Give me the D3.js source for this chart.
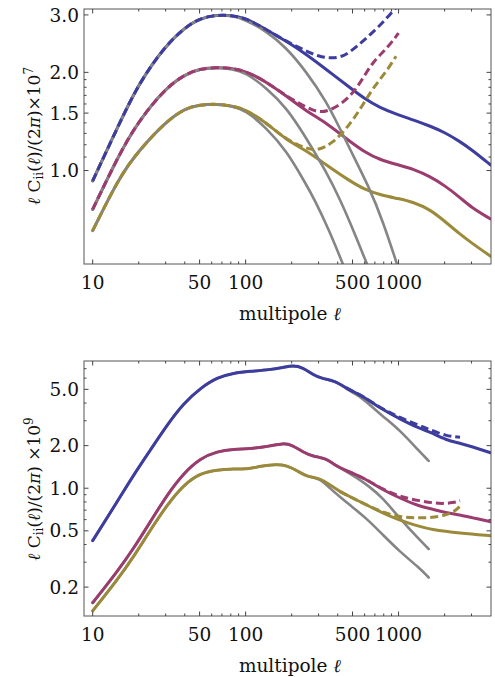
<!DOCTYPE html>
<html>
<head>
<meta charset="utf-8">
<script src="https://cdn.jsdelivr.net/npm/d3@7"></script>
<style>
  html, body { margin: 0; padding: 0; background: #fff; }
  svg { display: block; }
  text { font-family: "DejaVu Serif", serif; fill: #111; }
</style>
</head>
<body>
<svg id="chart" width="495" height="677"></svg>
<script>
// ---------------- DATA ----------------
// x tick values (multipole ℓ)
const xMajorTicks = [10, 50, 100, 500, 1000];
const xMinorTicks = [20, 30, 40, 60, 70, 80, 90, 200, 300, 400, 600, 700, 800, 900, 2000, 3000];

// top panel y ticks (×10^7)
const topYMajor = [1.0, 1.5, 2.0, 3.0];
const topYMinor = [1.1, 1.2, 1.3, 1.4, 1.6, 1.7, 1.8, 1.9];
const topYLabels = ["1.0", "1.5", "2.0", "3.0"];

// bottom panel y ticks (×10^9)
const botYMajor = [0.2, 0.5, 1.0, 2.0, 5.0];
const botYMinor = [0.3, 0.4, 0.6, 0.7, 0.8, 0.9, 3, 4, 6, 7];
const botYLabels = ["0.2", "0.5", "1.0", "2.0", "5.0"];

// ---- top panel: solid colored curves
const topEllSolid = [10, 15, 20, 30, 40, 50, 65, 80, 100, 137, 185, 250, 337, 478, 600, 750, 1000, 1250, 1600, 2000, 2500, 3000, 4000];
const topBlueSolid = [0.93, 1.40, 1.85, 2.42, 2.74, 2.93, 3.00, 2.99, 2.94, 2.70, 2.49, 2.27, 2.04, 1.80, 1.66, 1.56, 1.48, 1.43, 1.37, 1.31, 1.23, 1.16, 1.04];
const topMagSolid  = [0.76, 1.13, 1.42, 1.79, 1.97, 2.05, 2.07, 2.06, 2.02, 1.87, 1.69, 1.52, 1.40, 1.23, 1.14, 1.08, 1.04, 1.01, 0.96, 0.90, 0.83, 0.77, 0.71];
const topOliSolid  = [0.654, 0.96, 1.15, 1.41, 1.55, 1.59, 1.60, 1.58, 1.54, 1.40, 1.24, 1.15, 1.04, 0.93, 0.875, 0.843, 0.82, 0.80, 0.76, 0.70, 0.64, 0.60, 0.546];

// ---- top panel: dashed colored curves
const topEllBlueDash = [10, 15, 20, 30, 40, 50, 65, 80, 100, 137, 185, 250, 300, 350, 412, 478, 585, 750, 917, 1000];
const topBlueDash    = [0.93, 1.40, 1.85, 2.42, 2.74, 2.93, 3.00, 2.99, 2.94, 2.70, 2.49, 2.32, 2.24, 2.21, 2.22, 2.30, 2.49, 2.77, 3.08, 3.22];
const topEllMagDash  = [10, 15, 20, 30, 40, 50, 65, 80, 100, 137, 185, 250, 305, 372, 478, 580, 680, 850, 1000];
const topMagDash     = [0.76, 1.13, 1.42, 1.79, 1.97, 2.05, 2.07, 2.06, 2.02, 1.87, 1.69, 1.56, 1.50, 1.54, 1.67, 1.90, 2.16, 2.38, 2.64];
const topEllOliDash  = [10, 15, 20, 30, 40, 50, 65, 80, 100, 137, 185, 249, 290, 372, 478, 580, 680, 850, 963];
const topOliDash     = [0.654, 0.96, 1.15, 1.41, 1.55, 1.59, 1.60, 1.58, 1.54, 1.40, 1.24, 1.17, 1.148, 1.21, 1.38, 1.58, 1.79, 2.04, 2.24];

// ---- top panel: gray curves
const topEllBlueGray = [10, 15, 20, 30, 40, 50, 65, 80, 100, 137, 185, 249, 337, 412, 478, 646, 789, 1000];
const topBlueGray    = [0.93, 1.40, 1.85, 2.42, 2.74, 2.93, 3.00, 2.99, 2.90, 2.67, 2.38, 2.01, 1.63, 1.35, 1.17, 0.884, 0.70, 0.50];
const topEllMagGray  = [10, 15, 20, 30, 40, 50, 65, 80, 100, 137, 185, 249, 337, 412, 478, 640];
const topMagGray     = [0.76, 1.13, 1.42, 1.79, 1.97, 2.05, 2.07, 2.05, 2.00, 1.79, 1.56, 1.26, 0.99, 0.82, 0.70, 0.50];
const topEllOliGray  = [10, 15, 20, 30, 40, 50, 65, 80, 100, 137, 185, 249, 280, 350, 445];
const topOliGray     = [0.654, 0.96, 1.15, 1.41, 1.55, 1.59, 1.60, 1.58, 1.53, 1.35, 1.15, 0.906, 0.82, 0.66, 0.50];

// ---- bottom panel: solid colored curves
const botEllBlue  = [10, 14.5, 18.6, 23.9, 30.7, 39.4, 50.7, 65, 83.6, 106, 144, 176, 204, 237, 275, 318, 383, 455, 528, 584, 789, 1014, 1370, 1600, 2046, 2523, 3000, 4000];
const botBlue     = [0.426, 0.807, 1.25, 1.87, 2.81, 4.0, 5.1, 6.07, 6.52, 6.70, 6.88, 7.14, 7.38, 7.14, 6.34, 5.94, 5.75, 5.11, 4.71, 4.46, 3.59, 3.10, 2.64, 2.50, 2.19, 2.08, 1.97, 1.78];
const botEllMag   = [10, 14.5, 18.6, 23.9, 30.7, 39.4, 50.7, 65, 83.6, 106, 144, 176, 204, 237, 275, 337, 383, 455, 528, 644, 789, 1014, 1370, 1600, 2046, 2523, 3000, 4000];
const botMag      = [0.155, 0.258, 0.378, 0.583, 0.90, 1.28, 1.63, 1.82, 1.89, 1.90, 1.98, 2.09, 2.01, 1.80, 1.68, 1.63, 1.45, 1.33, 1.25, 1.12, 0.976, 0.853, 0.745, 0.72, 0.67, 0.647, 0.62, 0.58];
const botEllOli   = [10, 14.5, 18.6, 23.9, 30.7, 39.4, 50.7, 65, 83.6, 106, 124, 159, 185, 218, 249, 305, 355, 411, 478, 614, 789, 1014, 1370, 1600, 2523, 4000];
const botOli      = [0.136, 0.225, 0.33, 0.509, 0.764, 1.06, 1.28, 1.35, 1.37, 1.37, 1.43, 1.48, 1.45, 1.33, 1.21, 1.18, 1.06, 0.95, 0.875, 0.764, 0.668, 0.593, 0.537, 0.513, 0.48, 0.462];

// ---- bottom panel: dashed colored curves (diverge at high ℓ)
const botEllBlueDash = [455, 528, 584, 789, 1014, 1370, 1574, 2046, 2523];
const botBlueDash    = [5.11, 4.71, 4.46, 3.62, 3.16, 2.78, 2.61, 2.34, 2.29];
const botEllMagDash  = [455, 528, 644, 789, 1014, 1370, 1849, 2300, 2523];
const botMagDash     = [1.33, 1.25, 1.12, 0.985, 0.87, 0.816, 0.773, 0.79, 0.816];
const botEllOliDash  = [411, 478, 614, 789, 1014, 1370, 1849, 2300, 2523];
const botOliDash     = [0.95, 0.875, 0.764, 0.675, 0.625, 0.615, 0.625, 0.675, 0.748];

// ---- bottom panel: gray curves
const botEllBlueGray = [10, 14.5, 18.6, 23.9, 30.7, 39.4, 50.7, 65, 83.6, 106, 144, 176, 204, 237, 275, 318, 383, 455, 528, 584, 789, 1014, 1370, 1574];
const botBlueGray    = [0.426, 0.807, 1.25, 1.87, 2.81, 4.0, 5.1, 6.07, 6.52, 6.70, 6.88, 7.14, 7.38, 7.14, 6.34, 5.94, 5.75, 5.05, 4.60, 4.30, 3.22, 2.59, 1.82, 1.56];
const botEllMagGray  = [10, 14.5, 18.6, 23.9, 30.7, 39.4, 50.7, 65, 83.6, 106, 144, 176, 204, 237, 275, 337, 383, 455, 528, 644, 789, 1014, 1370, 1574];
const botMagGray     = [0.155, 0.258, 0.378, 0.583, 0.90, 1.28, 1.63, 1.82, 1.89, 1.90, 1.98, 2.09, 2.01, 1.80, 1.68, 1.63, 1.45, 1.32, 1.19, 1.03, 0.853, 0.615, 0.432, 0.372];
const botEllOliGray  = [10, 14.5, 18.6, 23.9, 30.7, 39.4, 50.7, 65, 83.6, 106, 124, 159, 185, 218, 249, 305, 355, 411, 478, 614, 789, 1014, 1370, 1574];
const botOliGray     = [0.136, 0.225, 0.33, 0.509, 0.764, 1.06, 1.28, 1.35, 1.37, 1.37, 1.43, 1.48, 1.45, 1.33, 1.21, 1.18, 1.00, 0.875, 0.764, 0.615, 0.469, 0.358, 0.273, 0.234];

// ---------------- STYLE ----------------
const BLUE = "#3d3d9f", MAG = "#9b3c6f", OLI = "#9b8a3a", GRAY = "#858585";

// ---------------- DRAW ----------------
const svg = d3.select("#chart");
const X0 = 84, X1 = 491;

function zip(xs, ys) { return xs.map((x, i) => [x, ys[i]]); }

function panel(opts) {
  const { y0, y1, yDomain, yMajor, yMinor, yLabels, id } = opts;
  const x = d3.scaleLog().domain([8.775, 4022]).range([X0, X1]);
  const y = d3.scaleLog().domain(yDomain).range([y1, y0]);
  const g = svg.append("g");

  svg.append("clipPath").attr("id", id).append("rect")
    .attr("x", X0).attr("y", y0).attr("width", X1 - X0).attr("height", y1 - y0);

  const line = d3.line().x(d => x(d[0])).y(d => y(d[1])).curve(d3.curveBasis);
  const plot = g.append("g").attr("clip-path", `url(#${id})`);

  opts.layers.forEach(L => {
    plot.append("path")
      .attr("d", line(zip(L.ell, L.v)))
      .attr("fill", "none")
      .attr("stroke", L.color)
      .attr("stroke-width", L.width)
      .attr("stroke-linecap", L.dash ? "butt" : "round")
      .attr("stroke-dasharray", L.dash || null);
  });

  // frame
  g.append("rect").attr("x", X0).attr("y", y0).attr("width", X1 - X0).attr("height", y1 - y0)
    .attr("fill", "none").attr("stroke", "#555").attr("stroke-width", 1);

  const tk = g.append("g").attr("stroke", "#444").attr("stroke-width", 1);
  const xt = (v, len) => {
    const px = x(v);
    if (px < X0 || px > X1) return;
    tk.append("line").attr("x1", px).attr("x2", px).attr("y1", y1).attr("y2", y1 - len);
    tk.append("line").attr("x1", px).attr("x2", px).attr("y1", y0).attr("y2", y0 + len);
  };
  xMajorTicks.forEach(v => xt(v, 4.5));
  xMinorTicks.forEach(v => xt(v, 2.5));
  const yt = (v, len) => {
    const py = y(v);
    tk.append("line").attr("x1", X0).attr("x2", X0 + len).attr("y1", py).attr("y2", py);
    tk.append("line").attr("x1", X1).attr("x2", X1 - len).attr("y1", py).attr("y2", py);
  };
  yMajor.forEach(v => yt(v, 4.5));
  yMinor.forEach(v => yt(v, 2.5));

  // tick labels
  g.selectAll(null).data(xMajorTicks).enter().append("text")
    .attr("x", d => x(d)).attr("y", y1 + 25)
    .attr("text-anchor", "middle").attr("font-size", 18.5)
    .text(d => String(d));
  g.selectAll(null).data(yMajor).enter().append("text")
    .attr("x", 79).attr("y", d => y(d)).attr("dy", "0.36em")
    .attr("text-anchor", "end").attr("font-size", 18.5)
    .text((d, i) => yLabels[i]);

  // x axis title
  const xt2 = g.append("text").attr("x", 290).attr("y", opts.xTitleY)
    .attr("text-anchor", "middle").attr("font-size", 18.5);
  xt2.append("tspan").text("multipole ");
  xt2.append("tspan").attr("font-style", "italic").text("ℓ");

  // y axis title
  const yt2 = g.append("text")
    .attr("transform", `translate(40,${opts.yTitleCenter}) rotate(-90)`)
    .attr("text-anchor", "middle").attr("font-size", 17);
  yt2.append("tspan").attr("font-style", "italic").text("ℓ");
  yt2.append("tspan").text(" C");
  yt2.append("tspan").attr("font-size", 12).attr("dy", 3).text("ii");
  yt2.append("tspan").attr("dy", -3).text("(");
  yt2.append("tspan").attr("font-style", "italic").text("ℓ");
  yt2.append("tspan").text(")/(2");
  yt2.append("tspan").attr("font-style", "italic").text("π");
  yt2.append("tspan").text(opts.expSpace ? ") ×10" : ")×10");
  yt2.append("tspan").attr("font-size", 12).attr("dy", -7).text(opts.exp);
}

panel({
  id: "clipTop", y0: 9, y1: 264, yDomain: [0.517, 3.128],
  yMajor: topYMajor, yMinor: topYMinor, yLabels: topYLabels,
  xTitleY: 320, yTitleCenter: 136, exp: "7", expSpace: false,
  layers: [
    { ell: topEllSolid, v: topBlueSolid, color: BLUE, width: 3 },
    { ell: topEllSolid, v: topMagSolid, color: MAG, width: 3 },
    { ell: topEllSolid, v: topOliSolid, color: OLI, width: 3 },
    { ell: topEllBlueGray, v: topBlueGray, color: GRAY, width: 2.6 },
    { ell: topEllMagGray, v: topMagGray, color: GRAY, width: 2.6 },
    { ell: topEllOliGray, v: topOliGray, color: GRAY, width: 2.6 },
    { ell: topEllBlueDash, v: topBlueDash, color: BLUE, width: 3, dash: "8,4" },
    { ell: topEllMagDash, v: topMagDash, color: MAG, width: 3, dash: "8,4" },
    { ell: topEllOliDash, v: topOliDash, color: OLI, width: 3, dash: "8,4" }
  ]
});

panel({
  id: "clipBot", y0: 361, y1: 616, yDomain: [0.125, 7.93],
  yMajor: botYMajor, yMinor: botYMinor, yLabels: botYLabels,
  xTitleY: 672, yTitleCenter: 489, exp: "9", expSpace: true,
  layers: [
    { ell: botEllBlueGray, v: botBlueGray, color: GRAY, width: 2.6 },
    { ell: botEllMagGray, v: botMagGray, color: GRAY, width: 2.6 },
    { ell: botEllOliGray, v: botOliGray, color: GRAY, width: 2.6 },
    { ell: botEllBlue, v: botBlue, color: BLUE, width: 3 },
    { ell: botEllMag, v: botMag, color: MAG, width: 3 },
    { ell: botEllOli, v: botOli, color: OLI, width: 3 },
    { ell: botEllBlueDash, v: botBlueDash, color: BLUE, width: 3, dash: "8,4" },
    { ell: botEllMagDash, v: botMagDash, color: MAG, width: 3, dash: "8,4" },
    { ell: botEllOliDash, v: botOliDash, color: OLI, width: 3, dash: "8,4" }
  ]
});
</script>
</body>
</html>
